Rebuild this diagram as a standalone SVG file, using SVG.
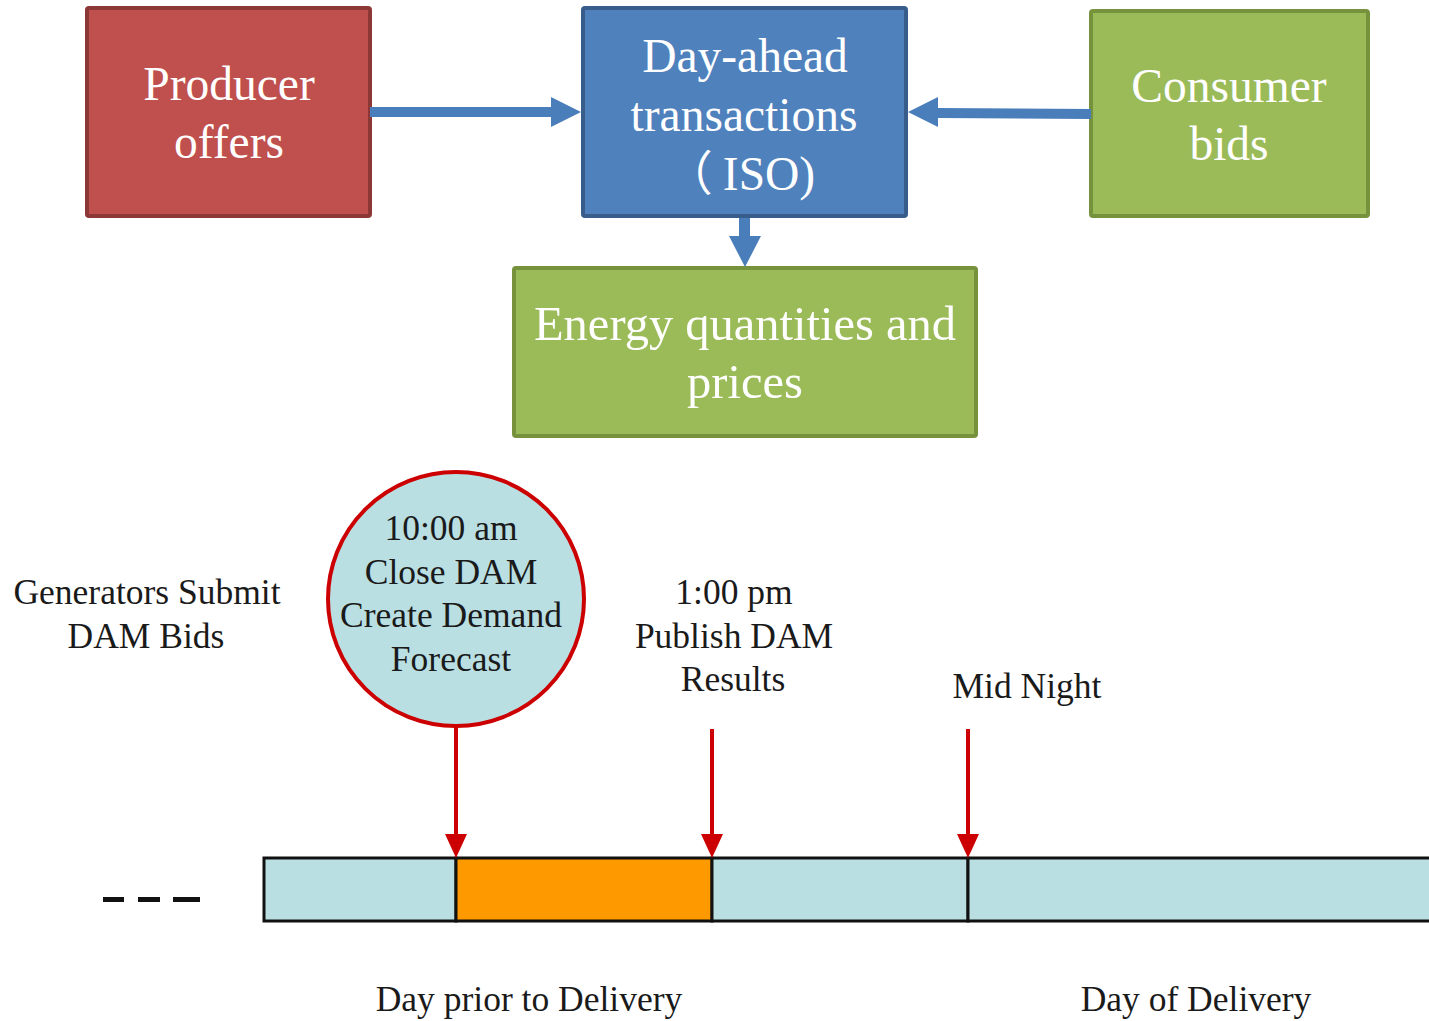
<svg xmlns="http://www.w3.org/2000/svg" width="1429" height="1021" viewBox="0 0 1429 1021">
  <style>
    .box-t { font-family: "Liberation Serif", "Noto Sans CJK SC", serif; font-size: 47.5px; fill: #ffffff; text-anchor: middle; }
    .tl-t { font-family: "Liberation Serif", serif; font-size: 35.5px; fill: #1a1a1a; text-anchor: middle; }
    .blue-conn { fill: #4a7ebb; }
    .red-line { stroke: #cc0000; stroke-width: 4; fill: none; }
    .red-head { fill: #cc0000; }
    .seg { stroke: #111111; stroke-width: 3; }
  </style>
  <rect width="1429" height="1021" fill="#ffffff"/>

  <!-- market flow nodes -->
  <g id="producer-offers">
    <rect x="87" y="8" width="283" height="208" rx="2" fill="#c0504d" stroke="#8c3836" stroke-width="4"/>
    <text class="box-t" x="229" y="100">Producer</text>
    <text class="box-t" x="229" y="158">offers</text>
  </g>
  <g id="day-ahead">
    <rect x="583" y="8" width="323" height="208" rx="2" fill="#4f81bd" stroke="#385d8a" stroke-width="4"/>
    <text class="box-t" x="745" y="72">Day-ahead</text>
    <text class="box-t" x="744" y="131">transactions</text>
    <text class="box-t" x="689" y="190">（</text>
    <text class="box-t" x="769" y="190">ISO)</text>
  </g>
  <g id="consumer-bids">
    <rect x="1091" y="11" width="277" height="205" rx="2" fill="#9bbb59" stroke="#76923c" stroke-width="4"/>
    <text class="box-t" x="1229" y="102">Consumer</text>
    <text class="box-t" x="1229" y="160">bids</text>
  </g>
  <g id="energy-prices">
    <rect x="514" y="268" width="462" height="168" rx="2" fill="#9bbb59" stroke="#76923c" stroke-width="4"/>
    <text class="box-t" x="745" y="340" style="font-size:48.5px">Energy quantities and</text>
    <text class="box-t" x="745" y="398" style="font-size:48.5px">prices</text>
  </g>

  <!-- market flow connectors -->
  <g id="flow-connectors">
    <polygon class="blue-conn" points="370,107 551,107 551,97 581,112 551,127 551,117 370,117"/>
    <polygon class="blue-conn" points="1091,109 938,108 938,97 908,112 938,127 938,118 1091,119"/>
    <polygon class="blue-conn" points="739,218 750,218 750,236 761,236 745,267 729,236 739,236"/>
  </g>

  <!-- timeline labels -->
  <g id="generators-submit">
    <text class="tl-t" x="147" y="604">Generators Submit</text>
    <text class="tl-t" x="146" y="648">DAM Bids</text>
  </g>
  <g id="close-dam">
    <ellipse cx="456" cy="599" rx="128" ry="127" fill="#b9dfe3" stroke="#cc0000" stroke-width="4"/>
    <text class="tl-t" x="451" y="540">10:00 am</text>
    <text class="tl-t" x="451" y="584">Close DAM</text>
    <text class="tl-t" x="451" y="627">Create Demand</text>
    <text class="tl-t" x="451" y="671">Forecast</text>
  </g>
  <g id="publish-dam">
    <text class="tl-t" x="734" y="604">1:00 pm</text>
    <text class="tl-t" x="734" y="648">Publish DAM</text>
    <text class="tl-t" x="733" y="691">Results</text>
  </g>
  <g id="mid-night">
    <text class="tl-t" x="1027" y="698">Mid Night</text>
  </g>

  <!-- timeline bar -->
  <g id="timeline-bar">
    <rect class="seg" x="264" y="858" width="192" height="63" fill="#b9dfe3"/>
    <rect class="seg" x="456" y="858" width="256" height="63" fill="#ff9900"/>
    <rect class="seg" x="712" y="858" width="256" height="63" fill="#b9dfe3"/>
    <rect class="seg" x="968" y="858" width="470" height="63" fill="#b9dfe3"/>
    <g fill="#111111">
      <rect x="103" y="897" width="21" height="5"/>
      <rect x="138" y="897" width="22" height="5"/>
      <rect x="173" y="897" width="27" height="5"/>
    </g>
    <text class="tl-t" x="529" y="1011">Day prior to Delivery</text>
    <text class="tl-t" x="1196" y="1011">Day of Delivery</text>
  </g>

  <!-- event markers -->
  <g id="timeline-connectors">
    <line class="red-line" x1="456" y1="727" x2="456" y2="836"/>
    <polygon class="red-head" points="445,834 467,834 456,858"/>
    <line class="red-line" x1="712" y1="729" x2="712" y2="836"/>
    <polygon class="red-head" points="701,834 723,834 712,858"/>
    <line class="red-line" x1="968" y1="729" x2="968" y2="836"/>
    <polygon class="red-head" points="957,834 979,834 968,858"/>
  </g>
</svg>
